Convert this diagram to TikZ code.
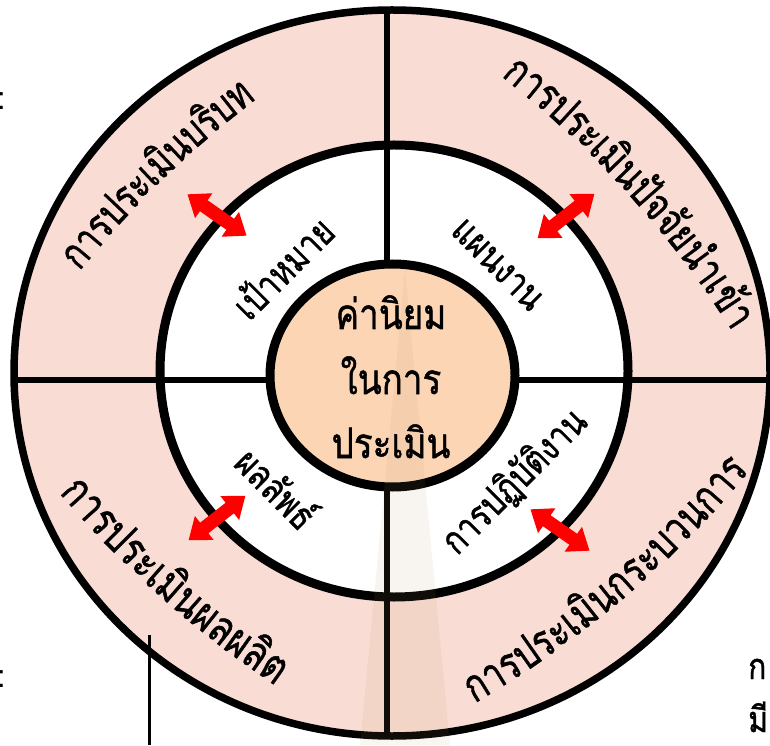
\documentclass[tikz,border=0pt]{standalone}
\usepackage{fontspec}
\setmainfont{Liberation Sans}
\newfontfamily\thaifont[Script=Thai, FakeBold=1.2]{Loma}
\usetikzlibrary{shapes.arrows}

\definecolor{ringpink}{HTML}{F9DCD3}
\definecolor{corepeach}{HTML}{FCD5B5}
\definecolor{shadetan}{HTML}{B89860}

\newdimen\arcTot
\newdimen\arcAcc
\newsavebox\arcBox
\def\thaistretch{1.3}

% Measures the syllables of a label at 20pt and keeps their widths.
% #1 name prefix, #2 syllables
\newcommand\measurewords[2]{%
  \global\arcTot=0pt
  \foreach \syl [count=\k] in {#2}{%
    \sbox\arcBox{\thaifont\fontsize{20}{24}\selectfont\syl}%
    \expandafter\xdef\csname arcw@#1@\k\endcsname{\the\wd\arcBox}%
    \global\advance\arcTot by \wd\arcBox}%
  \expandafter\xdef\csname arct@#1\endcsname{\the\arcTot}%
}

% Sets a list of syllables along a circular arc.
% #1 name prefix, #2,#3 arc centre, #4 radius, #5 angle of the middle of the text,
% #6 sense (1: clockwise, tops outward; -1: anticlockwise, tops inward),
% #7 length of the text along the arc, #8 syllables
\newcommand\arcwords[8]{%
  \pgfmathsetmacro\arcScale{(#7)/\csname arct@#1\endcsname}%
  \pgfmathsetmacro\arcSize{20*\arcScale}%
  \global\arcAcc=0pt
  \foreach \syl [count=\k] in {#8}{%
    \pgfmathsetmacro\arcW{\csname arcw@#1@\k\endcsname*\arcScale}%
    \pgfmathsetmacro\arcAng{(#5)-(#6)*(\the\arcAcc+0.5*\arcW-0.5*(#7))/(#4)*180/pi}%
    \pgfmathsetmacro\arcRad{(#4)-(#6)*0.27*\arcSize*\thaistretch}%
    \pgfmathsetmacro\arcX{(#2)+\arcRad*cos(\arcAng)}%
    \pgfmathsetmacro\arcY{(#3)+\arcRad*sin(\arcAng)}%
    \pgfmathsetmacro\arcRot{\arcAng-(#6)*90}%
    \node[anchor=base,inner sep=0pt,rotate=\arcRot,yscale=\thaistretch,
      font=\thaifont\fontsize{\arcSize}{\arcSize}\selectfont] (#1-\k) at (\arcX,\arcY) {\syl};
    \global\advance\arcAcc by \arcW pt}%
}

\tikzset{
  ringline/.style={line width=7.5pt},
  divider/.style={line width=6.5pt},
  dblarrow/.style={double arrow, fill=red, draw=none, minimum height=72pt,
    minimum width=30pt, double arrow head extend=8.5pt,
    double arrow tip angle=75, inner xsep=0pt, inner ysep=6.5pt},
  innerlabel/.style={font=\thaifont\fontsize{31}{33}\selectfont, inner sep=0pt},
  corelabel/.style={font=\thaifont\fontsize{35}{40}\selectfont, inner sep=0pt, anchor=base},
  edgetext/.style={font=\thaifont\fontsize{30}{32}\selectfont, inner sep=0pt},
}

\begin{document}
\measurewords{ctx}{การ,ประ,เมิน,บริ,บท}%
\measurewords{inp}{การ,ประ,เมิน,ปัจ,จัย,นำ,เข้า}%
\measurewords{prd}{การ,ประ,เมิน,ผล,ผลิต}%
\measurewords{prc}{การ,ประ,เมิน,กระ,บวน,การ}%
\begin{tikzpicture}[x=1pt,y=1pt]
\useasboundingbox (0,0) rectangle (770,745);
\begin{scope}
\clip (0,0) rectangle (770,745);

% outer and middle rings
\fill[ringpink] (392,372) ellipse [x radius=378pt, y radius=363pt];
\fill[white] (394,374) ellipse [x radius=234pt, y radius=226pt];

% quadrant dividers, kept inside the outer ring
\begin{scope}
  \clip (392,372) ellipse [x radius=378pt, y radius=363pt];
  \draw[divider] (387,0) -- (387,745);
  \draw[divider] (0,365) -- (770,365);
\end{scope}

% table rule running behind the diagram
\draw[line width=3.5pt] (149.5,110) -- (149.5,0);

\draw[ringline] (392,372) ellipse [x radius=378pt, y radius=363pt];
\draw[ringline, line width=9pt] (394,374) ellipse [x radius=234pt, y radius=226pt];

% core
\filldraw[fill=corepeach, line width=9pt] (392.5,369.5) ellipse [x radius=122.5pt, y radius=111.5pt];

% faint spire watermark
\fill[shadetan, opacity=0.09] (405,475) -- (450,0) -- (360,0) -- cycle;

% core text
\node[corelabel, yscale=1.2] (core1) at (391,416) {ค่านิยม};
\node[corelabel, yscale=1.2] (core2) at (391,351) {ในการ};
\node[corelabel, yscale=1.2] (core3) at (391,287) {ประเมิน};

% middle ring labels
\node[innerlabel, rotate=45, yscale=1.25]  (goal) at (282,478) {เป้าหมาย};
\node[innerlabel, rotate=-45, yscale=1.25] (plan) at (497,480) {แผนงาน};
\node[innerlabel, rotate=-45, yscale=1.25] (outc) at (278,258) {ผลลัพธ์};
\node[innerlabel, rotate=45, yscale=1.25]  (perf) at (515,263) {การปฏิบัติงาน};

% outer ring labels
\arcwords{ctx}{852.9}{-142.1}{1000}{134.3}{1}{250}{การ,ประ,เมิน,บริ,บท}
\arcwords{inp}{-104.1}{-112.4}{1000}{42.2}{1}{350}{การ,ประ,เมิน,ปัจ,จัย,นำ,เข้า}
\arcwords{prd}{834.1}{904.1}{1000}{228.3}{-1}{288}{การ,ประ,เมิน,ผล,ผลิต}
\arcwords{prc}{-31.1}{918.7}{1000}{-49.8}{-1}{358}{การ,ประ,เมิน,กระ,บวน,การ}

% links between the rings
\node[dblarrow, rotate=-35] (arrTL) at (217,530) {};
\node[dblarrow, rotate=38]  (arrTR) at (566,529) {};
\node[dblarrow, rotate=38]  (arrBL) at (217,227) {};
\node[dblarrow, rotate=-35] (arrBR) at (560,215) {};

% text of the page around the diagram
\node[anchor=east, inner sep=0pt, font=\fontsize{32}{32}\selectfont] (colA) at (6,644) {:};
\node[anchor=east, inner sep=0pt, font=\fontsize{32}{32}\selectfont] (colB) at (6,66) {:};
\node[edgetext, anchor=base west, yscale=1.2] (pageA) at (748,66) {ก};
\node[edgetext, anchor=base west, yscale=1.2] (pageB) at (748,13) {มี};
\end{scope}
\end{tikzpicture}
\end{document}
